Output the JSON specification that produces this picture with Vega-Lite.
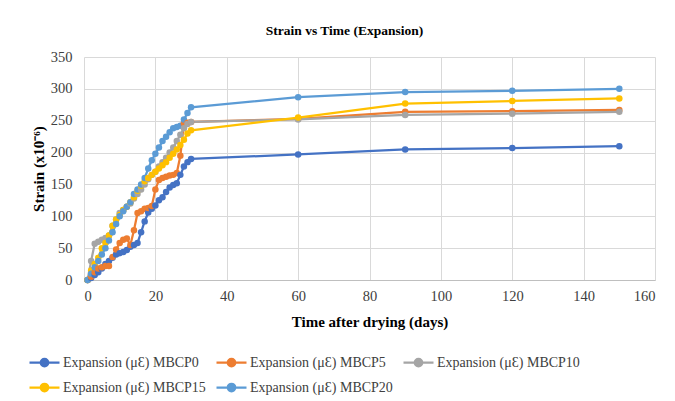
{
  "$schema": "https://vega.github.io/schema/vega-lite/v6.json",
  "autosize": "none",
  "width": 571,
  "height": 223,
  "padding": {"left": 84, "top": 57, "right": 20, "bottom": 121},
  "background": "white",
  "config": {
    "font": "Liberation Serif",
    "view": {"stroke": null}
  },
  "title": {
    "text": "Strain vs Time (Expansion)",
    "font": "Liberation Serif",
    "fontSize": 13.5,
    "fontWeight": "bold",
    "color": "#000000",
    "anchor": "middle",
    "dx": -25,
    "offset": 12
  },
  "data": {
    "values": [
      {"day": 1, "MBCP0": 0, "MBCP5": 0, "MBCP10": 0, "MBCP15": 0, "MBCP20": 0},
      {"day": 2, "MBCP0": 3, "MBCP5": 5, "MBCP10": 30, "MBCP15": 15, "MBCP20": 10},
      {"day": 3, "MBCP0": 8, "MBCP5": 12, "MBCP10": 57, "MBCP15": 25, "MBCP20": 20},
      {"day": 4, "MBCP0": 12, "MBCP5": 18, "MBCP10": 60, "MBCP15": 35, "MBCP20": 30},
      {"day": 5, "MBCP0": 18, "MBCP5": 20, "MBCP10": 63, "MBCP15": 50, "MBCP20": 40},
      {"day": 6, "MBCP0": 25, "MBCP5": 22, "MBCP10": 66, "MBCP15": 58, "MBCP20": 50},
      {"day": 7, "MBCP0": 30, "MBCP5": 22, "MBCP10": 70, "MBCP15": 70, "MBCP20": 62},
      {"day": 8, "MBCP0": 35, "MBCP5": 36, "MBCP10": 85, "MBCP15": 85, "MBCP20": 75},
      {"day": 9, "MBCP0": 40, "MBCP5": 48, "MBCP10": 95, "MBCP15": 95, "MBCP20": 88},
      {"day": 10, "MBCP0": 42, "MBCP5": 58, "MBCP10": 105, "MBCP15": 102, "MBCP20": 100},
      {"day": 11, "MBCP0": 44, "MBCP5": 63, "MBCP10": 110, "MBCP15": 110, "MBCP20": 108},
      {"day": 12, "MBCP0": 47, "MBCP5": 65, "MBCP10": 115, "MBCP15": 115, "MBCP20": 115},
      {"day": 13, "MBCP0": 52, "MBCP5": 55, "MBCP10": 120, "MBCP15": 122, "MBCP20": 122},
      {"day": 14, "MBCP0": 55, "MBCP5": 78, "MBCP10": 128, "MBCP15": 130, "MBCP20": 135},
      {"day": 15, "MBCP0": 58, "MBCP5": 105, "MBCP10": 135, "MBCP15": 140, "MBCP20": 142},
      {"day": 16, "MBCP0": 75, "MBCP5": 108, "MBCP10": 142, "MBCP15": 148, "MBCP20": 150},
      {"day": 17, "MBCP0": 92, "MBCP5": 112, "MBCP10": 150, "MBCP15": 155, "MBCP20": 160},
      {"day": 18, "MBCP0": 106, "MBCP5": 113, "MBCP10": 158, "MBCP15": 160, "MBCP20": 175},
      {"day": 19, "MBCP0": 112, "MBCP5": 116, "MBCP10": 165, "MBCP15": 165, "MBCP20": 188},
      {"day": 20, "MBCP0": 117, "MBCP5": 142, "MBCP10": 170, "MBCP15": 170, "MBCP20": 198},
      {"day": 21, "MBCP0": 125, "MBCP5": 157, "MBCP10": 178, "MBCP15": 175, "MBCP20": 208},
      {"day": 22, "MBCP0": 130, "MBCP5": 160, "MBCP10": 185, "MBCP15": 180, "MBCP20": 218},
      {"day": 23, "MBCP0": 138, "MBCP5": 162, "MBCP10": 192, "MBCP15": 185, "MBCP20": 225},
      {"day": 24, "MBCP0": 145, "MBCP5": 164, "MBCP10": 200, "MBCP15": 192, "MBCP20": 232},
      {"day": 25, "MBCP0": 149, "MBCP5": 165, "MBCP10": 208, "MBCP15": 198, "MBCP20": 238},
      {"day": 26, "MBCP0": 152, "MBCP5": 168, "MBCP10": 218, "MBCP15": 205, "MBCP20": 240},
      {"day": 27, "MBCP0": 165, "MBCP5": 195, "MBCP10": 228, "MBCP15": 212, "MBCP20": 242},
      {"day": 28, "MBCP0": 178, "MBCP5": 246, "MBCP10": 238, "MBCP15": 220, "MBCP20": 252},
      {"day": 29, "MBCP0": 185, "MBCP5": 247, "MBCP10": 245, "MBCP15": 230, "MBCP20": 262},
      {"day": 30, "MBCP0": 190, "MBCP5": 248, "MBCP10": 248, "MBCP15": 235, "MBCP20": 271},
      {"day": 60, "MBCP0": 197, "MBCP5": 253, "MBCP10": 252, "MBCP15": 255, "MBCP20": 287},
      {"day": 90, "MBCP0": 205, "MBCP5": 264, "MBCP10": 259, "MBCP15": 277, "MBCP20": 295},
      {"day": 120, "MBCP0": 207, "MBCP5": 265, "MBCP10": 261, "MBCP15": 281, "MBCP20": 297},
      {"day": 150, "MBCP0": 210, "MBCP5": 267, "MBCP10": 264, "MBCP15": 285, "MBCP20": 300}
    ]
  },
  "transform": [
    {"fold": ["MBCP0", "MBCP5", "MBCP10", "MBCP15", "MBCP20"], "as": ["series", "strain"]}
  ],
  "mark": {
    "type": "line",
    "strokeWidth": 2.25,
    "point": {"filled": true, "size": 42, "opacity": 1}
  },
  "encoding": {
    "x": {
      "field": "day",
      "type": "quantitative",
      "scale": {"domain": [0, 160], "nice": false},
      "axis": {
        "values": [0, 20, 40, 60, 80, 100, 120, 140, 160],
        "title": "Time after drying  (days)",
        "titleFont": "Liberation Serif",
        "titleFontSize": 15,
        "titleFontWeight": "bold",
        "titleColor": "#000000",
        "titleY": 34,
        "labelFont": "Liberation Serif",
        "labelFontSize": 14.5,
        "labelColor": "#404040",
        "labelPadding": 9,
        "ticks": false,
        "domainColor": "#BFBFBF",
        "domainWidth": 1,
        "gridColor": "#D9D9D9",
        "gridWidth": 1
      }
    },
    "y": {
      "field": "strain",
      "type": "quantitative",
      "scale": {"domain": [0, 350], "nice": false},
      "axis": {
        "values": [0, 50, 100, 150, 200, 250, 300, 350],
        "title": "Strain (x10⁻⁶)",
        "titleFont": "Liberation Serif",
        "titleFontSize": 15,
        "titleFontWeight": "bold",
        "titleColor": "#000000",
        "titlePadding": 4,
        "labelFont": "Liberation Serif",
        "labelFontSize": 14.5,
        "labelColor": "#404040",
        "labelPadding": 12,
        "ticks": false,
        "domain": false,
        "gridColor": "#D9D9D9",
        "gridWidth": 1
      }
    },
    "color": {
      "field": "series",
      "type": "nominal",
      "scale": {
        "domain": ["MBCP0", "MBCP5", "MBCP10", "MBCP15", "MBCP20"],
        "range": ["#4472C4", "#ED7D31", "#A5A5A5", "#FFC000", "#5B9BD5"]
      },
      "legend": {
        "title": null,
        "orient": "none",
        "legendX": -56,
        "legendY": 289,
        "direction": "horizontal",
        "columns": 3,
        "columnPadding": 6,
        "rowPadding": -8,
        "symbolType": "M-1,0L-0.25,0M0.25,0L1,0M-0.25,0A0.25,0.25,0,1,1,0.25,0A0.25,0.25,0,1,1,-0.25,0Z",
        "symbolSize": 900,
        "symbolStrokeWidth": 2.25,
        "labelExpr": "'Expansion (μƐ) ' + datum.label",
        "labelFont": "Liberation Serif",
        "labelFontSize": 14,
        "labelColor": "#404040",
        "labelOffset": 2,
        "labelLimit": 300,
        "encode": {
          "symbols": {
            "update": {
              "fill": {"scale": "color", "field": "value"},
              "stroke": {"scale": "color", "field": "value"},
              "fillOpacity": {"value": 1}
            }
          }
        }
      }
    }
  }
}
